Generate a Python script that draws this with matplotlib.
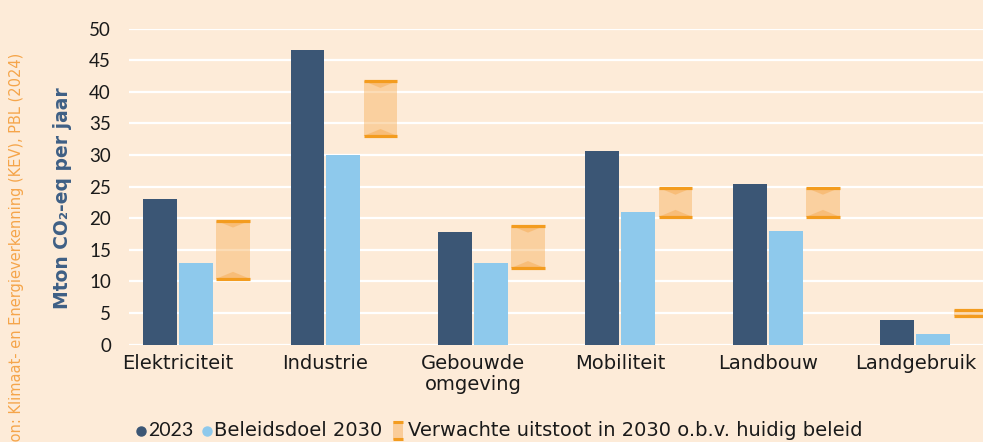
import matplotlib
matplotlib.use("Agg")
import matplotlib.pyplot as plt
from matplotlib.patches import Rectangle, Polygon
from matplotlib.lines import Line2D
import numpy as np

plt.rcParams['font.family'] = ['DejaVu Sans']

categories = ["Elektriciteit", "Industrie", "Gebouwde\nomgeving", "Mobiliteit", "Landbouw", "Landgebruik"]
values_2023 = [23.1, 46.6, 17.8, 30.6, 25.4, 3.9]
values_doel_2030 = [12.9, 30.0, 12.9, 21.0, 18.0, 1.7]
verwacht_low = [10.4, 33.0, 12.1, 20.2, 20.2, 4.5]
verwacht_high = [19.6, 41.7, 18.8, 24.8, 24.8, 5.4]
yticks = [0, 5, 10, 15, 20, 25, 30, 35, 40, 45, 50]
legend_labels = ["2023", "Beleidsdoel 2030", "Verwachte uitstoot in 2030 o.b.v. huidig beleid"]

BG = '#FDEBD8'
DARK = '#3B5675'
LIGHT = '#8EC9EC'
ORANGE = '#F39C1F'
BANDC = '#F7A84A'
TXT = '#1a1a1a'
NUMFONT = ['Lato', 'DejaVu Sans']
TXTFONT = ['DejaVu Sans']

W, H = 983, 442
fig = plt.figure(figsize=(W / 100, H / 100), dpi=100, facecolor=BG)
ax = fig.add_axes([129 / W, (H - 344.5) / H, 1 - 129 / W, (344.5 - 28.5) / H])
ax.set_facecolor(BG)

x = np.arange(len(categories))
bw = 0.23
ax.bar(x - 0.122, values_2023, width=bw, color=DARK, zorder=3)
ax.bar(x + 0.122, values_doel_2030, width=bw, color=LIGHT, zorder=3)

bx = x + 0.373
for xi, lo, hi in zip(bx, verwacht_low, verwacht_high):
    ax.add_patch(Rectangle((xi - bw / 2, lo), bw, hi - lo, facecolor=BANDC, alpha=0.4,
                           edgecolor='none', zorder=3))
    th = min(1.1, (hi - lo) * 0.25)
    ax.add_patch(Polygon([(xi - bw / 2, hi), (xi + bw / 2, hi), (xi, hi - th)], closed=True,
                         facecolor=BANDC, alpha=0.45, edgecolor='none', zorder=3))
    ax.add_patch(Polygon([(xi - bw / 2, lo), (xi + bw / 2, lo), (xi, lo + th)], closed=True,
                         facecolor=BANDC, alpha=0.45, edgecolor='none', zorder=3))
    ax.plot([xi - bw / 2, xi + bw / 2], [hi, hi], color=ORANGE, lw=2.3, solid_capstyle='butt', zorder=4)
    ax.plot([xi - bw / 2, xi + bw / 2], [lo, lo], color=ORANGE, lw=2.3, solid_capstyle='butt', zorder=4)

ax.set_xlim(-0.332, 5.458)
ax.set_ylim(0, 50)
ax.set_yticks(yticks)
ax.set_yticklabels([str(v) for v in yticks], fontsize=13.5, color=TXT, family=NUMFONT)
ax.set_xticks(x)
ax.set_xticklabels(categories, fontsize=14, color=TXT, linespacing=1.15, family=TXTFONT)
ax.tick_params(axis='both', length=0)
ax.tick_params(axis='y', pad=13)
ax.tick_params(axis='x', pad=7)
ax.grid(axis='y', color='white', lw=1.6, zorder=1)
ax.set_axisbelow(True)
for s in ax.spines.values():
    s.set_visible(False)

fig.text(63 / W, 1 - 198 / H, "Mton CO\u2082-eq per jaar", rotation=90, ha='center', va='center',
         fontsize=13.5, fontweight='bold', color='#3E5F85', family=TXTFONT)
fig.text(17 / W, 1 - 53 / H, "Bron: Klimaat- en Energieverkenning (KEV), PBL (2024)", rotation=90,
         ha='center', va='top', fontsize=10.5, color='#F5A54A', family=TXTFONT)

# legend laid out sequentially
renderer = fig.canvas.get_renderer()
ly = 1 - 431 / H
cur = 137.0
for i, lab in enumerate(legend_labels):
    if i < 2:
        col = DARK if i == 0 else LIGHT
        fig.add_artist(Line2D([(cur + 4) / W], [ly], marker='o', color=col, markersize=6.5,
                              linestyle='none'))
        cur += 11
    else:
        fig.add_artist(Rectangle((cur / W, 1 - 440 / H), 10 / W, 19 / H, transform=fig.transFigure,
                                 facecolor=BANDC, alpha=0.45, edgecolor='none'))
        fig.add_artist(Line2D([cur / W, (cur + 10) / W], [1 - 422 / H] * 2, color=ORANGE, lw=2.2,
                              solid_capstyle='butt'))
        fig.add_artist(Line2D([cur / W, (cur + 10) / W], [1 - 439 / H] * 2, color=ORANGE, lw=2.2,
                              solid_capstyle='butt'))
        cur += 15
    t = fig.text(cur / W, ly, lab, fontsize=14, va='center', ha='left', color=TXT,
                 family=NUMFONT if lab == "2023" else TXTFONT)
    bb = t.get_window_extent(renderer)
    cur = bb.x1 + 10

fig.savefig("out.png", dpi=100, facecolor=BG)
